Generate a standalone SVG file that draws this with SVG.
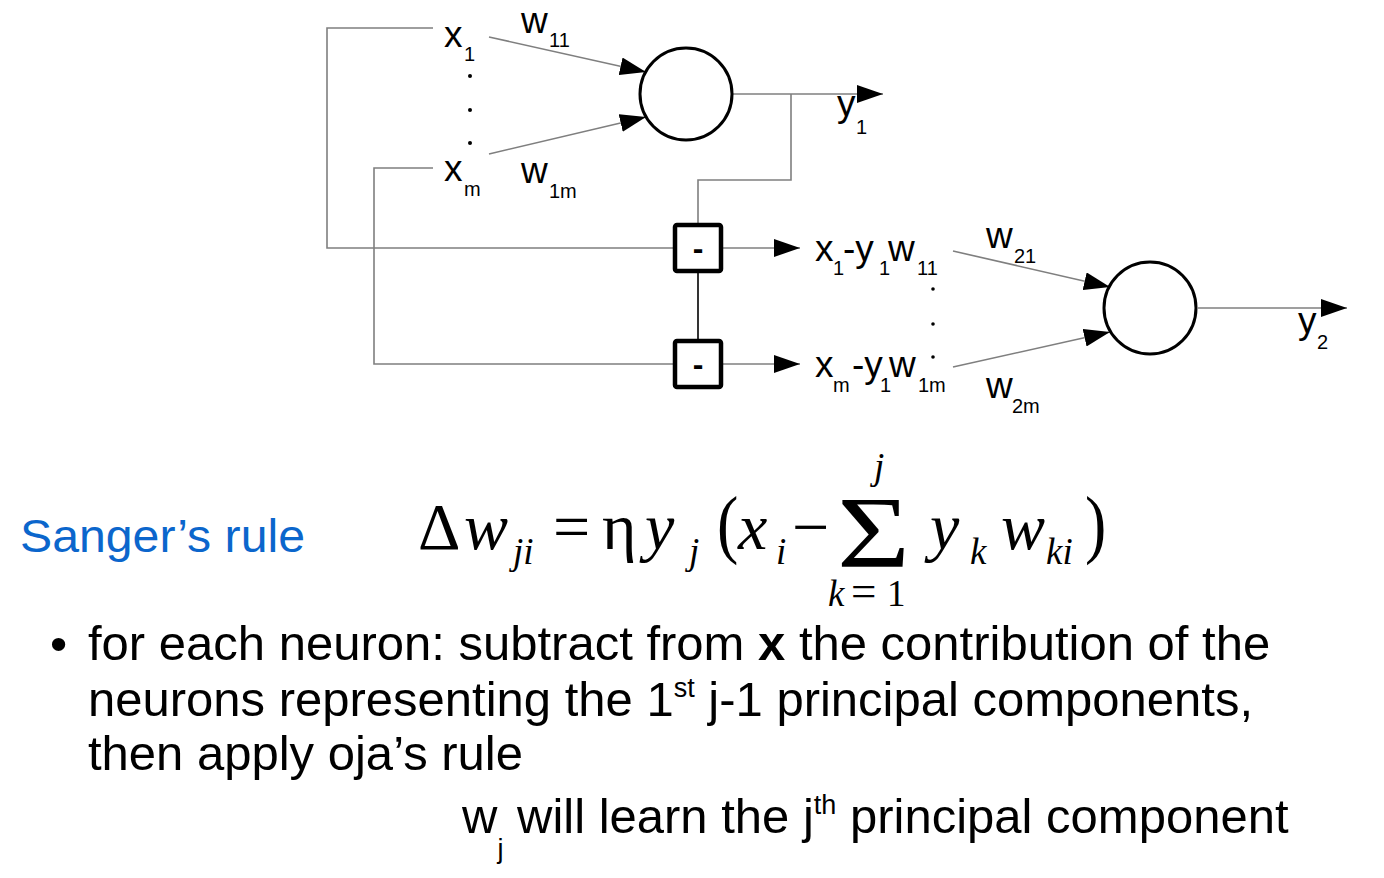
<svg xmlns="http://www.w3.org/2000/svg" width="1384" height="878" viewBox="0 0 1384 878">
<style>
.ln{stroke:#7f7f7f;stroke-width:1.6;fill:none}
.lk{stroke:#000;stroke-width:1.6;fill:none}
.neuron{fill:#fff;stroke:#000;stroke-width:3}
.box{fill:#fff;stroke:#000;stroke-width:4.5}
.s{font-family:"Liberation Sans",Arial,sans-serif;fill:#000}
.m{font-size:37px}
.sub{font-size:20px}
.e{font-family:"Liberation Serif","Times New Roman",serif;fill:#000}
.ei{font-family:"Liberation Serif","Times New Roman",serif;font-style:italic;fill:#000}
.big{font-size:66px}
.sm{font-size:37px}
.body{font-size:49px}
.dot{fill:#000}
</style>
<defs>
<marker id="ah" markerUnits="userSpaceOnUse" markerWidth="26" markerHeight="18" refX="26" refY="9" orient="auto">
<path d="M0,0 L26,9 L0,18 z" fill="#000"/>
</marker>
</defs>

<g id="connectors">
<path class="ln" d="M433,28 H327 V248 H674"/>
<path class="ln" d="M433,168 H374 V364 H674"/>
<path class="ln" d="M489,37 L646,72" marker-end="url(#ah)"/>
<path class="ln" d="M489,154 L646,117" marker-end="url(#ah)"/>
<path class="ln" d="M733,94 H883" marker-end="url(#ah)"/>
<path class="ln" d="M791,94 V180 H698 V225"/>
<path class="lk" d="M698,271 V341"/>
<path class="ln" d="M721,248 H800" marker-end="url(#ah)"/>
<path class="ln" d="M721,364 H800" marker-end="url(#ah)"/>
<path class="ln" d="M953,251 L1110,287" marker-end="url(#ah)"/>
<path class="ln" d="M953,367 L1110,332" marker-end="url(#ah)"/>
<path class="ln" d="M1198,308 H1347" marker-end="url(#ah)"/>
</g>

<g id="inputs">
<text class="s m" x="444" y="47">x</text><text class="s sub" x="464" y="61">1</text>
<circle class="dot" cx="470" cy="76" r="2"/>
<circle class="dot" cx="470" cy="110" r="2"/>
<circle class="dot" cx="470" cy="143" r="2"/>
<text class="s m" x="444" y="181">x</text><text class="s sub" x="464" y="196">m</text>
<text class="s m" x="521" y="33">w</text><text class="s sub" x="549" y="47">11</text>
<text class="s m" x="521" y="183">w</text><text class="s sub" x="549" y="198">1m</text>
</g>

<g id="neuron1">
<circle class="neuron" cx="686" cy="94" r="46"/>
</g>
<g id="y1-label">
<text class="s m" x="837" y="116">y</text><text class="s sub" x="856" y="134">1</text>
</g>

<g id="sub1">
<rect class="box" x="675" y="225" width="46" height="46" rx="2"/>
<text class="s" x="698" y="259" font-size="32" font-weight="bold" text-anchor="middle">-</text>
</g>
<g id="sub2">
<rect class="box" x="675" y="341" width="46" height="46" rx="2"/>
<text class="s" x="698" y="375" font-size="32" font-weight="bold" text-anchor="middle">-</text>
</g>

<g id="residuals">
<text class="s m" x="815" y="261">x</text><text class="s sub" x="833" y="275">1</text>
<text class="s m" x="843" y="261">-y</text><text class="s sub" x="879" y="275">1</text>
<text class="s m" x="888" y="261">w</text><text class="s sub" x="917" y="275">11</text>
<circle class="dot" cx="933" cy="289" r="1.8"/>
<circle class="dot" cx="933" cy="324" r="1.8"/>
<circle class="dot" cx="933" cy="357" r="1.8"/>
<text class="s m" x="815" y="377">x</text><text class="s sub" x="833" y="392">m</text>
<text class="s m" x="852" y="377">-y</text><text class="s sub" x="880" y="392">1</text>
<text class="s m" x="889" y="377">w</text><text class="s sub" x="918" y="392">1m</text>
<text class="s m" x="986" y="248">w</text><text class="s sub" x="1014" y="263">21</text>
<text class="s m" x="986" y="398">w</text><text class="s sub" x="1012" y="413">2m</text>
</g>

<g id="neuron2">
<circle class="neuron" cx="1150" cy="308" r="46"/>
</g>
<g id="y2-label">
<text class="s m" x="1298" y="333">y</text><text class="s sub" x="1317" y="349">2</text>
</g>

<g id="title">
<text class="s" x="20" y="552" font-size="47" style="fill:#0b66cc" textLength="285" lengthAdjust="spacingAndGlyphs">Sanger’s rule</text>
</g>

<g id="equation">
<text class="e big" x="418" y="549">Δ</text>
<text class="ei big" x="464" y="549">w</text>
<text class="ei sm" x="513" y="564">ji</text>
<text class="e big" x="553" y="549">=</text>
<text class="e big" x="602" y="549">η</text>
<text class="ei big" x="645" y="549">y</text>
<text class="ei sm" x="689" y="564">j</text>
<text class="e" font-size="64" transform="translate(717,549) scale(1,1.2)">(</text>
<text class="ei big" x="738" y="549">x</text>
<text class="ei sm" x="776" y="564">i</text>
<text class="e big" x="792" y="549">−</text>
<text class="e" x="837" y="567" font-size="102" textLength="73" lengthAdjust="spacingAndGlyphs">Σ</text>
<text class="ei sm" x="874" y="479">j</text>
<text class="ei sm" x="828" y="606">k</text>
<text class="e" x="851" y="606" font-size="45">=</text>
<text class="e" x="887" y="606" font-size="37">1</text>
<text class="ei big" x="930" y="549">y</text>
<text class="ei sm" x="970" y="564">k</text>
<text class="ei big" x="1001" y="549">w</text>
<text class="ei sm" x="1046" y="564">ki</text>
<text class="e" font-size="64" transform="translate(1085,549) scale(1,1.2)">)</text>
</g>

<g id="bullets">
<text class="s body" x="50" y="660">•</text>
<text class="s body" x="88" y="660">for each neuron: subtract from <tspan font-weight="bold">x</tspan> the contribution of the</text>
<text class="s body" x="88" y="716">neurons representing the 1<tspan font-size="27" dy="-19">st</tspan><tspan dy="19"> j-1 principal components,</tspan></text>
<text class="s body" x="88" y="770">then apply oja’s rule</text>
<text class="s body" x="462" y="833">w<tspan font-size="27" dy="25">j</tspan><tspan dy="-25"> will learn the j</tspan><tspan font-size="27" dy="-19">th</tspan><tspan dy="19"> principal component</tspan></text>
</g>
</svg>
